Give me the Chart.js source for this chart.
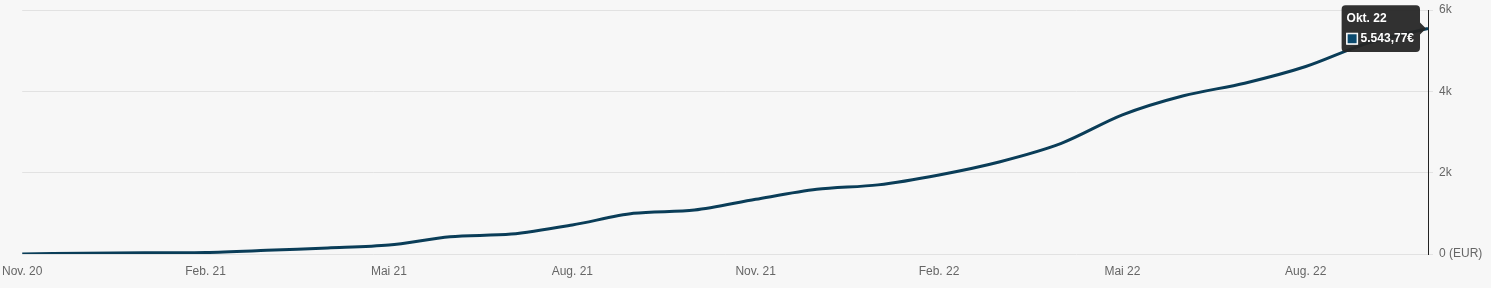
<!DOCTYPE html>
<html>
<head>
<meta charset="utf-8">
<script src="https://cdn.jsdelivr.net/npm/chart.js@4"></script>
<style>
    html, body { margin: 0; padding: 0; background: #f7f7f7; }
    #wrap { width: 1491px; height: 288px; }
</style>
</head>
<body>
<div id="wrap"><canvas id="chart" width="1491" height="288"></canvas></div>
<script>
// Monthly depot value, Nov. 20 - Okt. 22
const months = [
    'Nov. 20', 'Dez. 20', 'Jan. 21', 'Feb. 21', 'Mär. 21', 'Apr. 21',
    'Mai 21', 'Jun. 21', 'Jul. 21', 'Aug. 21', 'Sep. 21', 'Okt. 21',
    'Nov. 21', 'Dez. 21', 'Jan. 22', 'Feb. 22', 'Mär. 22', 'Apr. 22',
    'Mai 22', 'Jun. 22', 'Jul. 22', 'Aug. 22', 'Sep. 22', 'Okt. 22'
];
const values = [
    0, 20, 30, 37, 90, 150,
    220, 425, 490, 715, 1000, 1080,
    1345, 1590, 1700, 1945, 2270, 2720,
    3420, 3890, 4200, 4610, 5180, 5543.77
];
const yTicks = [0, 2000, 4000, 6000];
const yTickLabels = ['0 (EUR)', '2k', '4k', '6k'];

const lineColor = '#0a3d58';

function formatEuro(v) {
    return v.toLocaleString('de-DE', { minimumFractionDigits: 2, maximumFractionDigits: 2 }) + '€';
}

const ctx = document.getElementById('chart').getContext('2d');
const chart = new Chart(ctx, {
    type: 'line',
    data: {
        labels: months,
        datasets: [{
            data: values,
            borderColor: lineColor,
            backgroundColor: lineColor,
            borderWidth: 3,
            tension: 0.3,
            pointRadius: 0,
            pointHoverRadius: 0,
            fill: false
        }]
    },
    options: {
        responsive: false,
        animation: false,
        layout: { padding: { left: 18, top: 10, right: 0, bottom: 0 } },
        scales: {
            x: {
                grid: { display: false },
                border: { display: false },
                ticks: {
                    autoSkip: false,
                    maxRotation: 0,
                    color: '#666',
                    padding: 2,
                    font: { family: 'Liberation Sans, Arial, sans-serif', size: 12 },
                    callback: function(value, index) {
                        return index % 3 === 0 ? months[index] : '';
                    }
                },
                afterFit: function(axis) { axis.height = 34; }
            },
            y: {
                position: 'right',
                min: 0,
                max: 6000,
                afterBuildTicks: function(axis) {
                    axis.ticks = yTicks.map(v => ({ value: v }));
                },
                grid: {
                    color: '#e2e2e2',
                    tickLength: 5,
                    drawTicks: true
                },
                border: { display: true, color: '#222', width: 1 },
                ticks: {
                    color: '#666',
                    padding: 6,
                    font: { family: 'Liberation Sans, Arial, sans-serif', size: 12 },
                    callback: function(value) {
                        const i = yTicks.indexOf(value);
                        return i >= 0 ? yTickLabels[i] : '';
                    }
                },
                afterFit: function(axis) {
                    axis.width = 63;
                    axis.paddingTop = 0;
                    axis.paddingBottom = 0;
                }
            }
        },
        plugins: {
            legend: { display: false },
            tooltip: {
                enabled: true,
                xAlign: 'right',
                yAlign: 'center',
                backgroundColor: 'rgba(38,38,38,0.95)',
                titleColor: '#fff',
                bodyColor: '#fff',
                titleFont: { family: 'Liberation Sans, Arial, sans-serif', size: 12, weight: 'bold' },
                bodyFont: { family: 'Liberation Sans, Arial, sans-serif', size: 12, weight: 'bold' },
                titleMarginBottom: 6,
                padding: { top: 6, bottom: 6, left: 5, right: 6 },
                cornerRadius: 4,
                caretSize: 6,
                caretPadding: 2,
                displayColors: true,
                boxWidth: 11,
                boxHeight: 11,
                boxPadding: 1,
                callbacks: {
                    title: items => items[0].label,
                    label: item => formatEuro(item.parsed.y),
                    labelColor: () => ({ borderColor: '#ffffff', backgroundColor: '#0b4a6e', borderWidth: 1 })
                }
            }
        }
    }
});

// Show tooltip on the last point like in the screenshot
const last = values.length - 1;
const meta = chart.getDatasetMeta(0);
const pt = meta.data[last];
chart.tooltip.setActiveElements([{ datasetIndex: 0, index: last }], { x: pt.x, y: pt.y });
chart.update();
</script>
</body>
</html>
